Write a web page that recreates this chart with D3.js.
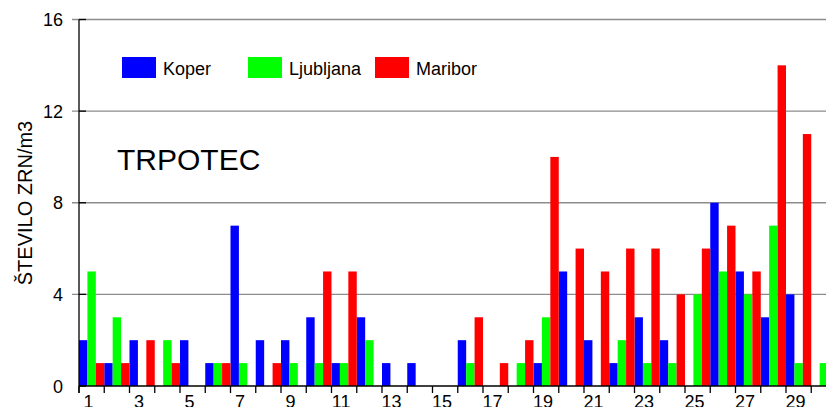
<!DOCTYPE html>
<html>
<head>
<meta charset="utf-8">
<script src="https://cdn.jsdelivr.net/npm/d3@7"></script>
<style>
  html, body { margin: 0; padding: 0; background: #fff; overflow: hidden; }
  svg { display: block; font-family: Arial, "Liberation Sans", sans-serif; }
</style>
</head>
<body>
<svg id="chart" width="826" height="407"></svg>
<script>
const days = d3.range(1, 31);
const seriesNames = ["Koper", "Ljubljana", "Maribor"];
const seriesColors = ["#0000ff", "#00ff00", "#ff0000"];
const koper     = [2,1,2,0,2,1,7,2,2,3,1,3,1,1,0,2,0,0,1,5,2,1,3,2,0,8,5,3,4,0];
const ljubljana = [5,3,0,2,0,1,1,0,1,1,1,2,0,0,0,1,0,1,3,0,0,2,1,1,4,5,4,7,1,1];
const maribor   = [1,1,2,1,0,1,0,1,0,5,5,0,0,0,0,3,1,2,10,6,5,6,6,4,6,7,5,14,11,0];
const yTicks = [0, 4, 8, 12, 16];
const title = "TRPOTEC";
const yLabel = "ŠTEVILO ZRN/m3";

const series = [koper, ljubljana, maribor];
const svg = d3.select("#chart");

const x = d3.scaleBand().domain(days).range([79, 836.5]).padding(0);
const xs = d3.scaleBand().domain(d3.range(3)).range([0, x.bandwidth()]).padding(0);
const y = d3.scaleLinear().domain([0, 16]).range([386, 19.5]);

// gridlines
svg.append("g").selectAll("line").data(yTicks.filter(d => d > 0)).join("line")
  .attr("x1", 72).attr("x2", 826)
  .attr("y1", d => y(d)).attr("y2", d => y(d))
  .attr("stroke", "#8c8c8c").attr("stroke-width", 1.3);

// bars
const g = svg.append("g");
series.forEach((vals, si) => {
  g.append("g").selectAll("rect").data(days).join("rect")
    .attr("x", d => x(d) + xs(si))
    .attr("width", xs.bandwidth())
    .attr("y", (d, i) => y(vals[i]))
    .attr("height", (d, i) => y(0) - y(vals[i]))
    .attr("fill", seriesColors[si]);
});

// y axis
svg.append("line").attr("x1", 79).attr("x2", 79).attr("y1", y(16)).attr("y2", 393)
  .attr("stroke", "#000").attr("stroke-width", 1.3);
svg.append("g").selectAll("line").data(yTicks).join("line")
  .attr("x1", 79).attr("x2", 86)
  .attr("y1", d => y(d)).attr("y2", d => y(d))
  .attr("stroke", "#000").attr("stroke-width", 1.3);
svg.append("g").selectAll("text").data(yTicks).join("text")
  .attr("x", 63).attr("y", d => y(d) + 6.5)
  .attr("text-anchor", "end").attr("font-size", 18).attr("fill", "#000")
  .text(d => d);

// x axis
svg.append("line").attr("x1", 79).attr("x2", 826).attr("y1", y(0)).attr("y2", y(0))
  .attr("stroke", "#000").attr("stroke-width", 1.3);
svg.append("g").selectAll("line").data(days).join("line")
  .attr("x1", d => x(d)).attr("x2", d => x(d))
  .attr("y1", y(0)).attr("y2", 393)
  .attr("stroke", "#000").attr("stroke-width", 1.3);
svg.append("g").selectAll("text").data(days.filter(d => d % 2 === 1)).join("text")
  .attr("x", d => x(d) + x.bandwidth() / 2 - 3)
  .attr("y", 408)
  .attr("text-anchor", "middle").attr("font-size", 18).attr("fill", "#000")
  .text(d => d);

// y label
svg.append("text")
  .attr("transform", "translate(32,203) rotate(-90)")
  .attr("text-anchor", "middle").attr("font-size", 20).attr("fill", "#000")
  .text(yLabel);

// title
svg.append("text").attr("x", 117).attr("y", 170)
  .attr("font-size", 30).attr("fill", "#000").text(title);

// legend
const legX = [122, 248, 375];
const leg = svg.append("g").selectAll("g").data(seriesNames).join("g")
  .attr("transform", (d, i) => `translate(${legX[i]},57)`);
leg.append("rect").attr("width", 34).attr("height", 21)
  .attr("fill", (d, i) => seriesColors[i]);
leg.append("text").attr("x", 41).attr("y", 17.5)
  .attr("font-size", 18).attr("fill", "#000").text(d => d);
</script>
</body>
</html>
